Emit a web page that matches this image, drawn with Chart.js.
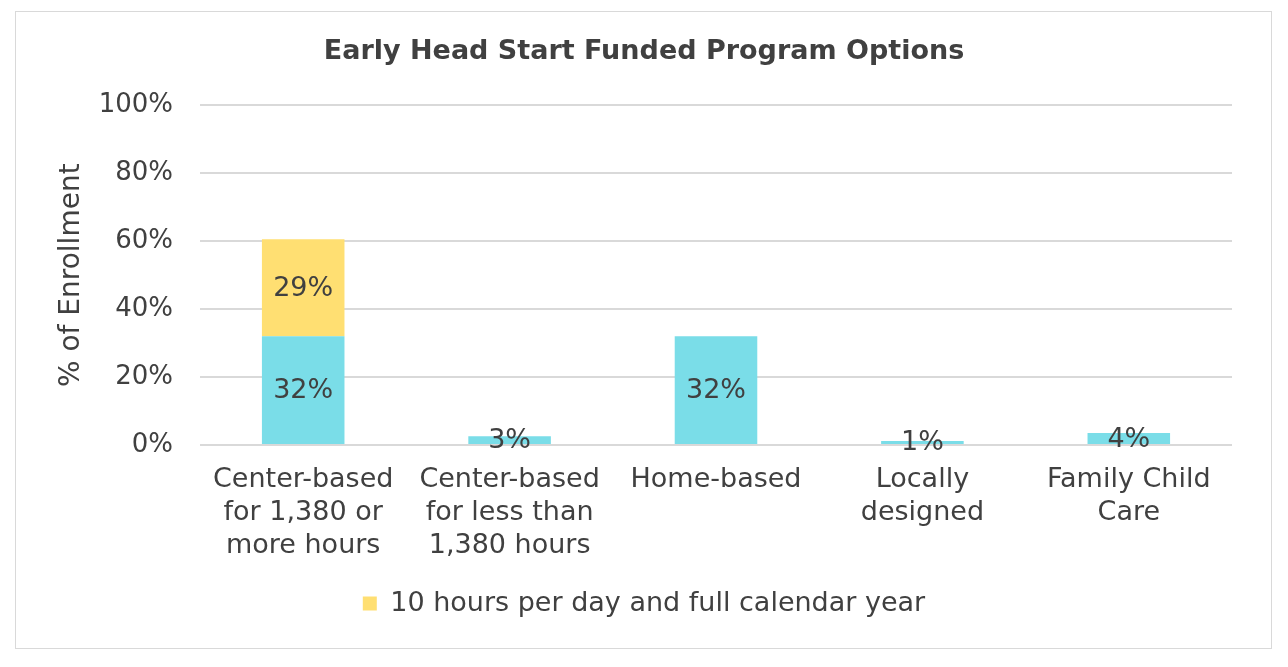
<!DOCTYPE html>
<html>
<head>
<meta charset="utf-8">
<script src="https://cdn.jsdelivr.net/npm/chart.js@4/dist/chart.umd.min.js"></script>
<style>
  html, body { margin: 0; padding: 0; background: #fff; }
  #wrap { width: 1288px; height: 667px; }
</style>
</head>
<body>
<div id="wrap"><canvas id="c" width="1288" height="667"></canvas></div>
<script>
const categories = [
  ["Center-based", "for 1,380 or", "more hours"],
  ["Center-based", "for less than", "1,380 hours"],
  ["Home-based"],
  ["Locally", "designed"],
  ["Family Child", "Care"]
];
const baseSeriesName = "Other";
const baseValues = [32, 2.6, 32, 1.2, 3.5];
const fullYearName = "10 hours per day and full calendar year";
const fullYearValues = [28.6, null, null, null, null];
const yTicks = [0, 20, 40, 60, 80, 100];

const FONT = "'DejaVu Sans', Verdana, sans-serif";
const TEXT = "#404040";

const frame = {
  id: "frame",
  beforeDraw(chart) {
    const ctx = chart.ctx;
    ctx.save();
    ctx.fillStyle = "#fff";
    ctx.fillRect(0, 0, chart.width, chart.height);
    ctx.strokeStyle = "#D9D9D9";
    ctx.lineWidth = 1;
    ctx.strokeRect(15.5, 11.5, 1256, 637);
    ctx.restore();
  }
};

const barLabels = {
  id: "barLabels",
  afterDatasetsDraw(chart) {
    const ctx = chart.ctx;
    ctx.save();
    ctx.font = "27px " + FONT;
    ctx.fillStyle = TEXT;
    ctx.textAlign = "center";
    ctx.textBaseline = "middle";
    chart.data.datasets.forEach((ds, i) => {
      const meta = chart.getDatasetMeta(i);
      meta.data.forEach((el, j) => {
        const v = ds.data[j];
        if (v === null || v === undefined) return;
        const y = (el.y + el.base) / 2;
        ctx.fillText(Math.round(v) + "%", el.x, y + 1);
      });
    });
    ctx.restore();
  }
};

new Chart(document.getElementById("c"), {
  type: "bar",
  data: {
    labels: categories,
    datasets: [
      { label: baseSeriesName, data: baseValues, backgroundColor: "#7ADDE8", barPercentage: 0.4, categoryPercentage: 1.0 },
      { label: fullYearName, data: fullYearValues, backgroundColor: "#FFDF72", barPercentage: 0.4, categoryPercentage: 1.0 }
    ]
  },
  options: {
    responsive: false,
    animation: false,
    layout: { padding: { left: 56, right: 56, top: 0, bottom: 40 } },
    plugins: {
      title: {
        display: true,
        text: "Early Head Start Funded Program Options",
        color: TEXT,
        font: { family: FONT, size: 27, weight: "bold" },
        padding: { top: 36, bottom: 37 }
      },
      legend: {
        display: true,
        position: "bottom",
        labels: {
          color: TEXT,
          font: { family: FONT, size: 27 },
          boxWidth: 14,
          boxHeight: 14,
          padding: 10,
          filter: (item) => item.datasetIndex === 1
        }
      },
      tooltip: { enabled: false }
    },
    scales: {
      x: {
        stacked: true,
        grid: { display: false },
        border: { display: false },
        ticks: {
          color: TEXT,
          font: { family: FONT, size: 27, lineHeight: 1.22 },
          padding: 11,
          maxRotation: 0,
          autoSkip: false
        },
        afterFit(scale) { scale.height = 135; }
      },
      y: {
        stacked: true,
        min: 0,
        max: 100,
        afterBuildTicks(scale) { scale.ticks = yTicks.map(v => ({ value: v })); },
        grid: { color: "#D9D9D9", lineWidth: 2, drawTicks: false },
        border: { display: false },
        ticks: {
          color: TEXT,
          font: { family: FONT, size: 26 },
          padding: 27,
          callback: (v) => v + "%"
        },
        title: {
          display: true,
          text: "% of Enrollment",
          color: TEXT,
          font: { family: FONT, size: 28 },
          padding: { top: -1, bottom: 0 }
        },
        afterFit(scale) { scale.width = 144; }
      }
    }
  },
  plugins: [frame, barLabels]
});
</script>
</body>
</html>
